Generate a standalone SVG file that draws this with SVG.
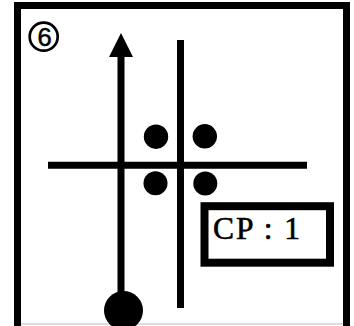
<svg xmlns="http://www.w3.org/2000/svg" width="354" height="326" viewBox="0 0 354 326">
  <style>
    .ln { stroke: #000; stroke-width: 7; fill: none; }
    .dot { fill: #000; }
    .lbl { font-family: "Liberation Serif", "Times New Roman", serif; fill: #000; stroke: #000; stroke-width: 0.6; }
  </style>
  <rect x="0" y="0" width="354" height="326" fill="#fff"/>
  <g id="frame">
    <rect x="17.5" y="5.5" width="329" height="340" fill="#fff" stroke="#000" stroke-width="7"/>
    <line x1="21" y1="324" x2="343" y2="324" stroke="#bbb" stroke-width="1"/>
  </g>
  <g id="badge">
    <circle cx="43.7" cy="36.7" r="14" fill="none" stroke="#000" stroke-width="2.7"/>
    <text x="44.5" y="46" font-family="'Liberation Sans', Arial, sans-serif" font-size="25.5" text-anchor="middle" stroke="#000" stroke-width="0.5">6</text>
  </g>
  <g id="connectors">
    <line class="ln" x1="121" y1="55" x2="121" y2="300"/>
    <polygon points="121,33 109,57 133,57" fill="#000"/>
    <line class="ln" x1="180.5" y1="40" x2="180.5" y2="308"/>
    <line class="ln" x1="48" y1="165.3" x2="307" y2="165.3" stroke-width="8"/>
  </g>
  <g id="start">
    <circle cx="123.5" cy="310.5" r="19.5" fill="#000"/>
  </g>
  <g id="dots">
    <circle class="dot" cx="156" cy="136.7" r="12.2"/>
    <circle class="dot" cx="204.8" cy="136.3" r="12.2"/>
    <circle class="dot" cx="155.5" cy="183.3" r="12"/>
    <circle class="dot" cx="205.3" cy="183.5" r="12"/>
  </g>
  <g id="cp">
    <rect x="204.5" y="206.2" width="125.5" height="56.5" fill="#fff" stroke="#000" stroke-width="8"/>
    <text class="lbl" x="213" y="239.3" font-size="31.5" textLength="87" lengthAdjust="spacing">CP : 1</text>
  </g>
</svg>
